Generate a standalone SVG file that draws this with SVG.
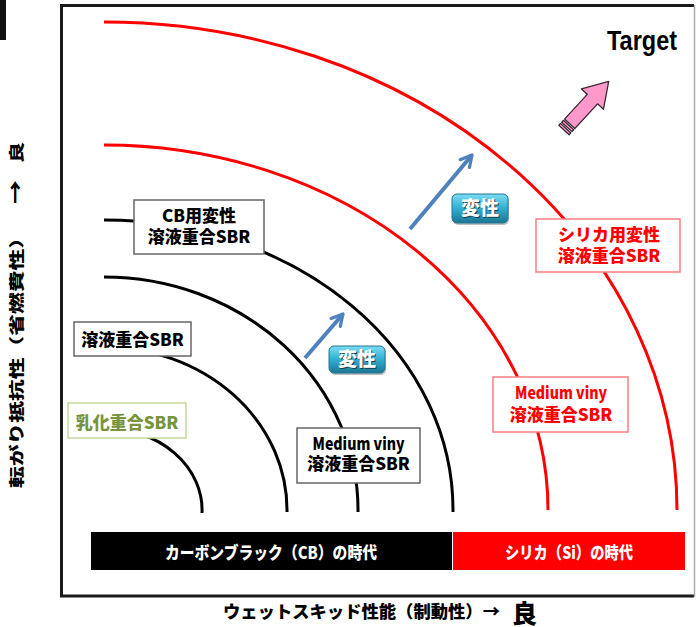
<svg xmlns="http://www.w3.org/2000/svg" width="697" height="627" viewBox="0 0 697 627">
<defs>
<style>
.t{font-family:"Noto Sans CJK JP","Liberation Sans",sans-serif;font-weight:900;font-size:17px;text-anchor:middle}
.ax{font-family:"Noto Sans CJK JP",sans-serif;font-weight:900}
.blk{fill:#000}
.red{fill:#FF0000}
.grn{fill:#77933C}
.wht{fill:#fff}
.bx{fill:#fff;stroke:#666;stroke-width:1.5}
.bxr{fill:#fff;stroke:#FF7C80;stroke-width:1.5}
.bxg{fill:#fff;stroke:#C3D69B;stroke-width:1.5}
.arcb{fill:none;stroke:#000;stroke-width:3}
.arcr{fill:none;stroke:#FF0000;stroke-width:3}
.blue{fill:none;stroke:#4F81BD;stroke-width:4;marker-end:url(#ah)}
.btn{fill:url(#bg);stroke:#1f7896;stroke-width:1}
.bts{font-family:"Noto Sans CJK JP",sans-serif;font-weight:900;font-size:19px;text-anchor:middle}
</style>
<linearGradient id="bg" x1="0" y1="0" x2="0" y2="1">
<stop offset="0" stop-color="#7ddcf2"/>
<stop offset="0.45" stop-color="#35b3d6"/>
<stop offset="1" stop-color="#1a7693"/>
</linearGradient>
<marker id="ah" viewBox="0 0 10 10" refX="8.5" refY="5" markerWidth="4" markerHeight="4" orient="auto" markerUnits="strokeWidth">
<path d="M1.5 1.2 L8.5 5 L1.5 8.8" fill="none" stroke="#4F81BD" stroke-width="2" stroke-linecap="round" stroke-linejoin="round"/>
</marker>
</defs>
<rect x="0" y="0" width="697" height="627" fill="#fff"/>
<rect x="0" y="0" width="6" height="40" fill="#111"/>
<g id="frame">
<path d="M694 5.5 H61.5 V596 H694" fill="none" stroke="#1a1a1a" stroke-width="3"/>
<line x1="694.5" y1="5" x2="694.5" y2="597" stroke="#aaa" stroke-width="1.5"/>
</g>
<g id="connectors">
<path class="arcr" d="M104 22 A573 488 0 0 1 677 510"/>
<path class="arcr" d="M104 145 A444 365 0 0 1 548 510"/>
<path class="arcb" d="M104 220 A349 290 0 0 1 453 512"/>
<path class="arcb" d="M104 277 A254 233 0 0 1 358 512"/>
<path class="arcb" d="M104 347 A183 163 0 0 1 287 512"/>
<path class="arcb" d="M104 428 A98 82 0 0 1 202 513"/>
<path class="blue" d="M305 358 L343 314"/>
<path class="blue" d="M410 229 L472 155"/>
</g>
<g id="node-cb">
<rect class="bx" x="134" y="200" width="130" height="54"/>
<text class="t blk" x="199" y="222">CB用変性</text>
<text class="t blk" x="199" y="243">溶液重合SBR</text>
</g>
<g id="node-solution">
<rect class="bx" x="74" y="322" width="117" height="34"/>
<text class="t blk" x="132.5" y="346">溶液重合SBR</text>
</g>
<g id="node-emulsion">
<rect class="bxg" x="68" y="403" width="118" height="35"/>
<text class="t grn" x="127" y="429">乳化重合SBR</text>
</g>
<g id="node-medium-black">
<rect class="bx" x="297" y="428" width="123" height="55"/>
<text class="t blk" x="358.5" y="450" textLength="92" lengthAdjust="spacingAndGlyphs">Medium viny</text>
<text class="t blk" x="358.5" y="470">溶液重合SBR</text>
</g>
<g id="node-medium-red">
<rect class="bxr" x="493" y="377" width="135" height="55"/>
<text class="t red" x="561" y="399" textLength="92" lengthAdjust="spacingAndGlyphs">Medium viny</text>
<text class="t red" x="561" y="421">溶液重合SBR</text>
</g>
<g id="node-silica">
<rect class="bxr" x="536" y="219" width="144" height="53"/>
<text class="t red" x="609" y="241">シリカ用変性</text>
<text class="t red" x="609" y="262">溶液重合SBR</text>
</g>
<g id="btn1">
<rect x="330" y="348" width="56" height="27" rx="5" fill="#000" opacity="0.25"/>
<rect class="btn" x="329" y="346" width="56" height="27" rx="5"/>
<text class="bts" x="358" y="367" fill="#1a3f4c">変性</text>
<text class="bts" x="357" y="366" fill="#fff">変性</text>
</g>
<g id="btn2">
<rect x="453" y="196" width="56" height="29" rx="5" fill="#000" opacity="0.25"/>
<rect class="btn" x="452" y="194" width="56" height="29" rx="5"/>
<text class="bts" x="481" y="216" fill="#1a3f4c">変性</text>
<text class="bts" x="480" y="215" fill="#fff">変性</text>
</g>
<g id="target">
<text x="607" y="50" font-family="Liberation Sans, Arial, sans-serif" font-weight="bold" font-size="27" textLength="70" lengthAdjust="spacingAndGlyphs" fill="#000">Target</text>
<g transform="translate(564,130) rotate(-47.4)" fill="#FF99CC" stroke="#3a2a33" stroke-width="1.3" stroke-linejoin="round">
<rect x="0" y="-7" width="2.5" height="14"/>
<rect x="4.2" y="-7" width="2.5" height="14"/>
<path d="M8.4 -7 H42 V-15 L66 0 L42 15 V7 H8.4 Z"/>
</g>
</g>
<g id="eras">
<rect x="91" y="532" width="361" height="38" fill="#000"/>
<rect x="453" y="532" width="232" height="38" fill="#FF0000"/>
<text class="t wht" x="271" y="559" font-size="16" textLength="212" lengthAdjust="spacingAndGlyphs">カーボンブラック（CB）の時代</text>
<text class="t wht" x="569" y="559" font-size="16" textLength="128" lengthAdjust="spacingAndGlyphs">シリカ（Si）の時代</text>
</g>
<g id="y-axis-label" transform="translate(22,488) rotate(-90)">
<text class="ax" x="0" y="0" font-size="15" textLength="261" lengthAdjust="spacingAndGlyphs">転がり抵抗性（省燃費性）</text>
<text class="ax" x="284" y="1" font-size="19" textLength="24" lengthAdjust="spacingAndGlyphs">→</text>
<text class="ax" x="325" y="0" font-size="15" textLength="21" lengthAdjust="spacingAndGlyphs">良</text>
</g>
<g id="x-axis-label">
<text class="ax" x="223" y="618" font-size="17" textLength="277" lengthAdjust="spacingAndGlyphs">ウェットスキッド性能（制動性）→</text>
<text class="ax" x="512" y="623" font-size="25">良</text>
</g>
</svg>
